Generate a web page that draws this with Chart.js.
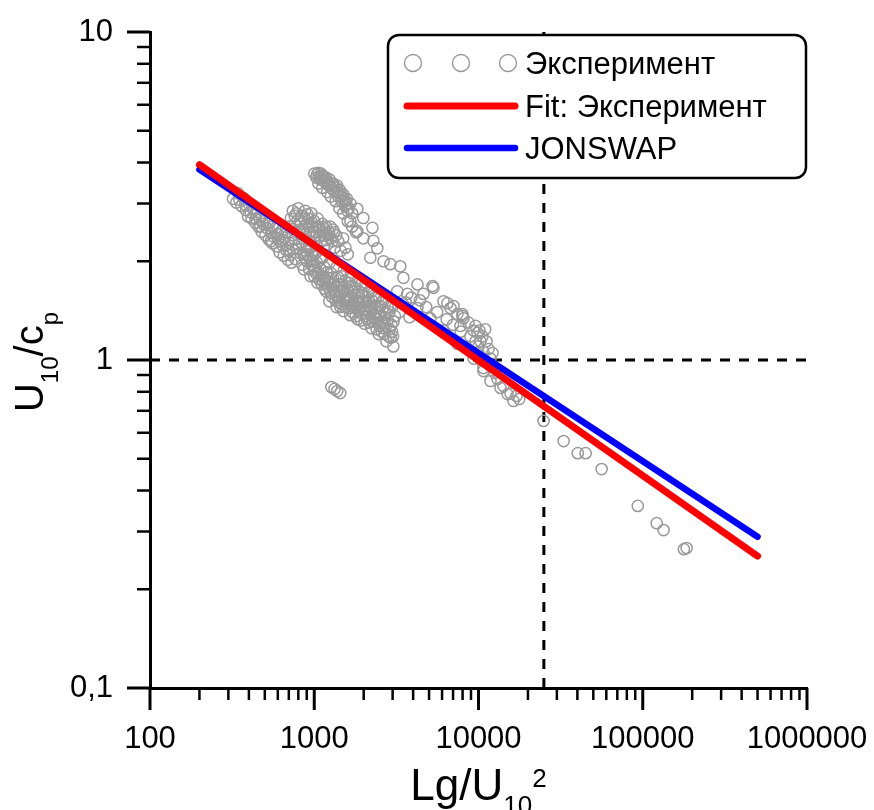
<!DOCTYPE html>
<html>
<head>
<meta charset="utf-8">
<title>U10/cp vs Lg/U10^2</title>
<script src="https://cdn.jsdelivr.net/npm/chart.js@4.4.1/dist/chart.umd.min.js"></script>
<style>
  html, body { margin: 0; padding: 0; background: #fff; }
  canvas { display: block; }
</style>
</head>
<body>
<canvas id="waveChart" width="874" height="810"></canvas>
<script>
// axis ticks (log-log)
const xMajor = [100, 1000, 10000, 100000, 1000000];
const xTickLabels = ['100', '1000', '10000', '100000', '1000000'];
const yMajor = [0.1, 1, 10];
const yTickLabels = ['0,1', '1', '10'];

const seriesLabels = ['Эксперимент', 'Fit: Эксперимент', 'JONSWAP'];

// measured points, [Lg/U10^2, U10/cp]
const expPoints = [
  // short-fetch tail
  [320, 3.10], [335, 3.02], [345, 3.22], [360, 2.95], [372, 3.12], [385, 2.86], [395, 2.74], [402, 2.98],
  [415, 2.70], [425, 2.88], [438, 2.62], [446, 2.78], [458, 2.55], [466, 2.68], [478, 2.46], [488, 2.60],
  [498, 2.72], [505, 2.40], [515, 2.52], [528, 2.33], [535, 2.62], [548, 2.44], [556, 2.27], [566, 2.38],
  [578, 2.52], [590, 2.22], [602, 2.34], [615, 2.13], [626, 2.46], [638, 2.24], [652, 2.08], [664, 2.36],
  [676, 2.16], [690, 2.02], [702, 2.28], [714, 2.09], [726, 1.98], [742, 2.18],
  [560, 2.55], [620, 2.30], [680, 2.45], [740, 2.40],
  [350, 3.08], [380, 2.98], [410, 2.82], [440, 2.70], [470, 2.56], [520, 2.60], [545, 2.30], [600, 2.42],
  [640, 2.32], [700, 2.15],
  // bump above the fit near 1000
  [720, 2.70], [740, 2.85], [760, 2.60], [780, 2.80], [800, 2.90], [820, 2.65], [840, 2.75], [860, 2.50],
  [880, 2.85], [900, 2.60], [920, 2.70], [940, 2.45], [960, 2.80], [980, 2.55], [1000, 2.65], [1020, 2.40],
  [1050, 2.70], [1080, 2.50], [1100, 2.30], [1120, 2.60], [1150, 2.40], [1180, 2.55], [1200, 2.25], [1230, 2.45],
  [1260, 2.35], [1300, 2.50], [1330, 2.20], [1360, 2.40], [1400, 2.30], [1450, 2.15], [1500, 2.35], [1550, 2.20],
  [1600, 2.10], [780, 2.45], [850, 2.35], [900, 2.25], [950, 2.20], [1000, 2.30], [1050, 2.15], [1100, 2.05],
  [820, 2.50], [870, 2.70], [930, 2.55], [990, 2.45], [1060, 2.55], [1130, 2.45], [1210, 2.40], [1290, 2.30],
  [700, 2.55], [760, 2.75], [830, 2.60], [890, 2.42], [910, 2.78], [970, 2.62], [1030, 2.55], [1070, 2.38],
  [1140, 2.52], [1170, 2.32], [1250, 2.55], [1320, 2.45],
  // tall group
  [1000, 3.70], [1030, 3.60], [1060, 3.72], [1090, 3.55], [1120, 3.65], [1150, 3.50], [1180, 3.60], [1210, 3.45],
  [1240, 3.55], [1270, 3.35], [1300, 3.45], [1330, 3.25], [1360, 3.35], [1400, 3.15], [1430, 3.30], [1470, 3.05],
  [1500, 3.20], [1540, 2.95], [1580, 3.10], [1620, 2.90], [1660, 3.00], [1700, 2.80], [1060, 3.45], [1120, 3.35],
  [1200, 3.25], [1260, 3.15], [1350, 3.05], [1420, 2.90], [1500, 2.80], [1600, 2.65], [1700, 2.55], [1800, 2.45],
  [1080, 3.62], [1160, 3.55], [1230, 3.40], [1320, 3.40], [1390, 3.25], [1460, 3.15], [1550, 3.05],
  [1040, 3.68], [1100, 3.70], [1140, 3.62], [1190, 3.52], [1280, 3.45], [1310, 3.30], [1380, 3.40], [1450, 3.22],
  [1520, 3.10], [1570, 2.98],
  // sparse points above the fit
  [1590, 2.85], [1830, 2.89], [1990, 2.71], [2260, 2.53], [2290, 2.31], [1830, 2.47], [1660, 2.65], [1990, 2.35],
  [2420, 2.19], [2905, 1.96], [3340, 1.93], [2640, 2.00], [2195, 2.05],
  // dense lower group
  [760, 2.33], [780, 2.18], [770, 2.03], [840, 2.26], [860, 2.10], [845, 1.95], [865, 1.89],
  [925, 2.18], [945, 2.03], [930, 1.89], [950, 1.80], [1020, 2.12], [1040, 1.98], [1025, 1.84], [1045, 1.72],
  [1130, 2.06], [1150, 1.92], [1135, 1.79], [1155, 1.65], [1240, 1.98], [1265, 1.84], [1245, 1.72], [1260, 1.60],
  [1235, 1.51], [1370, 1.92], [1395, 1.79], [1375, 1.67], [1390, 1.55], [1365, 1.45], [1510, 1.87], [1535, 1.74],
  [1515, 1.62], [1530, 1.51], [1505, 1.41], [1660, 1.80], [1690, 1.68], [1665, 1.56], [1685, 1.46], [1655, 1.37],
  [1840, 1.74], [1870, 1.62], [1845, 1.51], [1865, 1.41], [1835, 1.33], [2030, 1.68], [2060, 1.56], [2035, 1.46],
  [2055, 1.36], [2025, 1.29], [2240, 1.62], [2270, 1.51], [2245, 1.41], [2265, 1.31], [2235, 1.25], [2470, 1.56],
  [2500, 1.46], [2475, 1.36], [2495, 1.27], [2465, 1.20], [2730, 1.51], [2760, 1.39], [2735, 1.27], [2750, 1.14],
  [3010, 1.46], [3040, 1.31], [3015, 1.18], [3030, 1.10],
  [800, 2.25], [890, 2.15], [980, 2.08], [1085, 1.90], [1190, 1.85], [1310, 1.70], [1450, 1.58], [1600, 1.50],
  [1760, 1.44], [1950, 1.38], [2150, 1.40], [2360, 1.34], [2600, 1.30], [2880, 1.24], [1090, 2.02], [1200, 1.75],
  [1320, 1.62], [1460, 1.70], [1590, 1.64], [1760, 1.58], [1950, 1.60], [2140, 1.52], [2360, 1.55], [2600, 1.42],
  [2870, 1.40], [990, 1.93], [1100, 1.80], [1400, 1.50], [1700, 1.40], [1800, 1.52], [2100, 1.33], [2400, 1.24],
  [2680, 1.20], [2920, 1.17],
  [820, 2.12], [900, 2.00], [960, 1.95], [1010, 1.88], [1070, 1.76], [1110, 1.70], [1170, 1.72], [1220, 1.66],
  [1280, 1.56], [1340, 1.58], [1420, 1.62], [1480, 1.48], [1560, 1.55], [1620, 1.44], [1730, 1.50], [1790, 1.36],
  [1900, 1.45], [1990, 1.50], [2080, 1.42], [2190, 1.46], [2300, 1.38], [2420, 1.30], [2550, 1.36], [2650, 1.25],
  [2800, 1.32], [2950, 1.28], [1300, 1.78], [1470, 1.80], [1620, 1.72], [1780, 1.66], [1920, 1.70], [2120, 1.60],
  [2300, 1.57], [2550, 1.50], [2800, 1.45],
  [880, 2.05], [910, 2.10], [970, 2.00], [1000, 1.80], [1060, 1.85], [1120, 1.75], [1180, 1.62], [1230, 1.78],
  [1290, 1.65], [1350, 1.52], [1410, 1.70], [1440, 1.45], [1490, 1.66], [1550, 1.45], [1580, 1.58], [1640, 1.52],
  [1710, 1.62], [1750, 1.48], [1810, 1.45], [1880, 1.55], [1930, 1.32], [2000, 1.42], [2090, 1.50], [2160, 1.30],
  [2210, 1.44], [2330, 1.45], [2390, 1.40], [2440, 1.33], [2580, 1.22], [2700, 1.35], [2840, 1.18], [2980, 1.22],
  [3100, 1.36],
  // band toward 10000
  [3490, 1.78], [4250, 1.70], [4620, 1.59], [5320, 1.66], [6120, 1.51], [6750, 1.44], [7440, 1.38], [8100, 1.34],
  [9330, 1.23], [10280, 1.14], [10720, 1.06], [11830, 1.01], [10720, 0.925], [11830, 0.863], [13610, 0.822],
  [15030, 0.787], [16330, 0.75], [3690, 1.59], [4250, 1.44], [5090, 1.34], [6120, 1.23], [7440, 1.12],
  [9330, 1.01], [10720, 0.945], [3200, 1.62], [3600, 1.50], [3900, 1.55], [4400, 1.52], [4800, 1.45],
  [5600, 1.40], [6400, 1.33], [7000, 1.28], [7800, 1.22], [3300, 1.40], [3800, 1.35],
  [5250, 1.68], [6470, 1.49], [7980, 1.38], [9860, 1.21], [7050, 1.46], [7980, 1.36], [7760, 1.27],
  // group around 10000
  [8930, 1.18], [9590, 1.14], [10000, 1.10], [10570, 1.18], [11190, 1.14], [11510, 1.08], [12170, 1.05],
  [9780, 1.05], [10280, 1.00], [11190, 0.98], [10140, 1.23], [9590, 1.27], [8690, 1.30], [10980, 1.24],
  [11830, 0.958], [12530, 0.913], [13060, 0.875], [14190, 0.833], [15670, 0.79], [17050, 0.777], [17700, 0.76],
  // low outliers
  [1270, 0.827], [1330, 0.816], [1380, 0.804], [1440, 0.793],
  // long fetch
  [24900, 0.652], [33000, 0.566], [40200, 0.52], [44900, 0.52], [56200, 0.465],
  [93300, 0.359], [121600, 0.318], [134000, 0.303], [178000, 0.265], [185000, 0.267]
];

// fitted power laws, end points
const fitX = [200, 500000];
const fitY = [3.94, 0.2525];
const jonswapX = [200, 500000];
const jonswapY = [3.81, 0.289];

// dashed reference lines
const refX = 25000;
const refY = 1;

const FONT = '"Liberation Sans", Arial, Helvetica, sans-serif';

function seg(ctx, x1, y1, x2, y2) {
    ctx.beginPath();
    ctx.moveTo(x1, y1);
    ctx.lineTo(x2, y2);
    ctx.stroke();
}

// text with sub/superscripts: parts = [[text, size, baselineShift], ...]
function drawScripted(ctx, parts, cx, baseY) {
    let total = 0;
    parts.forEach(p => {
        ctx.font = p[1] + 'px ' + FONT;
        total += ctx.measureText(p[0]).width;
    });
    let x = cx - total / 2;
    parts.forEach(p => {
        ctx.font = p[1] + 'px ' + FONT;
        ctx.fillText(p[0], x, baseY + p[2]);
        x += ctx.measureText(p[0]).width;
    });
}

// tick labels must not push the plot area in
function noSidePadding(s) {
    s.paddingLeft = 0;
    s.paddingRight = 0;
    s.paddingTop = 0;
    s.paddingBottom = 0;
}

const axisDecor = {
    id: 'axisDecor',
    afterDraw(chart) {
        const ctx = chart.ctx;
        const xs = chart.scales.x;
        const ys = chart.scales.y;
        const area = chart.chartArea;
        ctx.save();
        ctx.strokeStyle = '#000';
        ctx.lineCap = 'butt';

        // x ticks: long majors, short minors, pointing down
        xMajor.forEach((v, i) => {
            ctx.lineWidth = 3;
            const p = xs.getPixelForValue(v);
            seg(ctx, p, area.bottom, p, area.bottom + 22);
            if (i < xMajor.length - 1) {
                ctx.lineWidth = 2.5;
                for (let m = 2; m < 10; m++) {
                    const q = xs.getPixelForValue(v * m);
                    seg(ctx, q, area.bottom, q, area.bottom + 12);
                }
            }
        });
        // y ticks: pointing left
        yMajor.forEach((v, i) => {
            ctx.lineWidth = 3;
            const p = ys.getPixelForValue(v);
            seg(ctx, area.left - 23, p, area.left, p);
            if (i < yMajor.length - 1) {
                ctx.lineWidth = 2.5;
                for (let m = 2; m < 10; m++) {
                    const q = ys.getPixelForValue(v * m);
                    seg(ctx, area.left - 13, q, area.left, q);
                }
            }
        });

        // axis titles
        ctx.fillStyle = '#000';
        ctx.textBaseline = 'alphabetic';
        ctx.textAlign = 'left';
        drawScripted(ctx, [['Lg/U', 44, 0], ['10', 26, 14], ['2', 26, -13]], (area.left + area.right) / 2, 800);
        ctx.save();
        ctx.translate(43, (area.top + area.bottom) / 2 + 2);
        ctx.rotate(-Math.PI / 2);
        drawScripted(ctx, [['U', 40, 0], ['10', 24, 15], ['/c', 40, 0], ['p', 24, 15]], 0, 0);
        ctx.restore();

        // legend box
        const ds = chart.data.datasets;
        ctx.beginPath();
        ctx.roundRect(388, 35, 418, 143, 11);
        ctx.fillStyle = '#fff';
        ctx.fill();
        ctx.lineWidth = 2.5;
        ctx.strokeStyle = '#000';
        ctx.stroke();

        const rows = [63, 106, 148];
        // scatter sample
        ctx.lineWidth = 1.4;
        ctx.strokeStyle = ds[0].borderColor;
        [413, 461, 508].forEach(cx => {
            ctx.beginPath();
            ctx.arc(cx, rows[0], 8.5, 0, Math.PI * 2);
            ctx.stroke();
        });
        // line samples
        ctx.lineCap = 'round';
        [1, 2].forEach((k, i) => {
            ctx.lineWidth = ds[k].borderWidth;
            ctx.strokeStyle = ds[k].borderColor;
            seg(ctx, 407, rows[i + 1], 515, rows[i + 1]);
        });
        ctx.fillStyle = '#000';
        ctx.font = '31px ' + FONT;
        [0, 1, 2].forEach(k => ctx.fillText(ds[k].label, 525, rows[k] + 11));
        ctx.restore();
    }
};

const toXY = (xs, ys) => xs.map((x, i) => ({ x: x, y: ys[i] }));

new Chart(document.getElementById('waveChart'), {
    type: 'scatter',
    data: {
        datasets: [
            {
                label: seriesLabels[0],
                data: expPoints.map(p => ({ x: p[0], y: p[1] })),
                pointStyle: 'circle',
                pointRadius: 5.6,
                pointBorderWidth: 1.5,
                borderColor: '#9a9a9a',
                backgroundColor: 'rgba(0,0,0,0)',
                order: 3
            },
            {
                type: 'line',
                label: seriesLabels[1],
                data: toXY(fitX, fitY),
                borderColor: '#ff0000',
                borderWidth: 7,
                borderCapStyle: 'round',
                pointRadius: 0,
                fill: false,
                order: 1
            },
            {
                type: 'line',
                label: seriesLabels[2],
                data: toXY(jonswapX, jonswapY),
                borderColor: '#0000ff',
                borderWidth: 6.5,
                borderCapStyle: 'round',
                pointRadius: 0,
                fill: false,
                order: 2
            },
            {
                type: 'line',
                label: 'y = 1',
                data: [{ x: xMajor[0], y: refY }, { x: xMajor[xMajor.length - 1], y: refY }],
                borderColor: '#000',
                borderWidth: 3,
                borderDash: [10, 9],
                pointRadius: 0,
                fill: false,
                order: 5
            },
            {
                type: 'line',
                label: 'x = 25000',
                data: [{ x: refX, y: yMajor[0] }, { x: refX, y: yMajor[yMajor.length - 1] }],
                borderColor: '#000',
                borderWidth: 3,
                borderDash: [10, 9],
                pointRadius: 0,
                fill: false,
                order: 5
            }
        ]
    },
    options: {
        responsive: false,
        animation: false,
        layout: { padding: { top: 32, right: 67, bottom: 0, left: 0 } },
        plugins: {
            legend: { display: false },
            tooltip: { enabled: false }
        },
        scales: {
            x: {
                type: 'logarithmic',
                position: 'bottom',
                min: xMajor[0],
                max: xMajor[xMajor.length - 1],
                grid: { display: false, drawTicks: false },
                border: { display: true, color: '#000', width: 3 },
                afterBuildTicks: s => { s.ticks = xMajor.map(v => ({ value: v })); },
                afterFit: s => { s.height = 122; noSidePadding(s); },
                ticks: {
                    autoSkip: false,
                    maxRotation: 0,
                    padding: 33,
                    color: '#000',
                    font: { family: FONT, size: 31 },
                    callback: (v, i) => xTickLabels[i]
                }
            },
            y: {
                type: 'logarithmic',
                position: 'left',
                min: yMajor[0],
                max: yMajor[yMajor.length - 1],
                grid: { display: false, drawTicks: false },
                border: { display: true, color: '#000', width: 3 },
                afterBuildTicks: s => { s.ticks = yMajor.map(v => ({ value: v })); },
                afterFit: s => { s.width = 150; noSidePadding(s); },
                ticks: {
                    autoSkip: false,
                    padding: 37,
                    color: '#000',
                    font: { family: FONT, size: 31 },
                    callback: (v, i) => yTickLabels[i]
                }
            }
        }
    },
    plugins: [axisDecor]
});
</script>
</body>
</html>
